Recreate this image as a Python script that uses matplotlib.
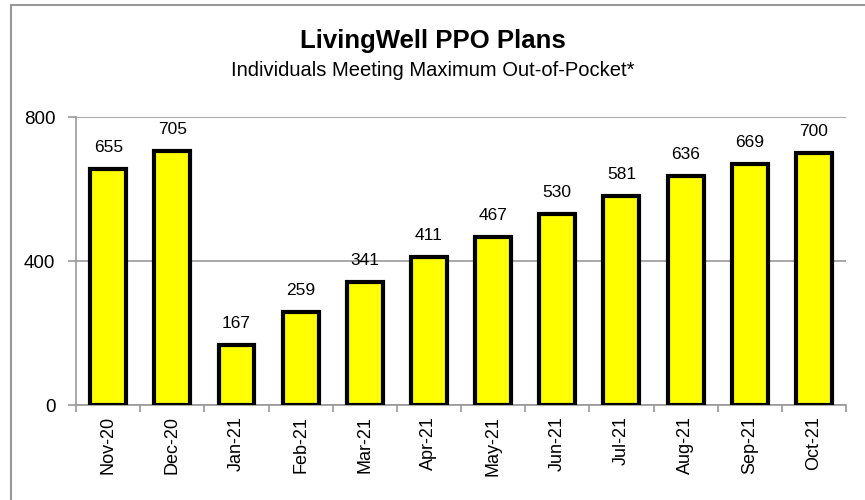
import matplotlib.pyplot as plt
from matplotlib.lines import Line2D

months = ["Nov-20", "Dec-20", "Jan-21", "Feb-21", "Mar-21", "Apr-21",
          "May-21", "Jun-21", "Jul-21", "Aug-21", "Sep-21", "Oct-21"]
values = [655, 705, 167, 259, 341, 411, 467, 530, 581, 636, 669, 700]
yticks = [0, 400, 800]

plt.rcParams["font.family"] = ["Liberation Sans", "DejaVu Sans"]
GREY = "#999999"

fig = plt.figure(figsize=(8.65, 5.0), dpi=100)
ax = fig.add_axes([0.088, 0.19, 0.890, 0.576])

x = list(range(len(months)))
ax.bar(x, values, width=0.56, color="#FFFF00", edgecolor="black", linewidth=3, zorder=3)
for xi, v in zip(x, values):
    ax.annotate(str(v), (xi, v), xytext=(0, 10), textcoords="offset points",
                ha="center", va="bottom", fontsize=12.5)

ax.set_xlim(-0.5, len(months) - 0.5)
ax.set_ylim(0, 800)
ax.set_yticks(yticks)
ax.set_yticklabels([str(t) for t in yticks], fontsize=13.5)
ax.yaxis.grid(True, color=GREY, lw=1.2, zorder=0)
ax.set_xticks(x)
ax.set_xticklabels(months, rotation=90, fontsize=13)
ax.set_xticks([i - 0.5 for i in range(len(months) + 1)], minor=True)
ax.tick_params(axis="x", which="major", length=0, pad=8)
ax.tick_params(axis="x", which="minor", length=5, color=GREY, width=1.2)
ax.tick_params(axis="y", length=6, color=GREY, width=1.2, pad=9)
for s in ["top", "right"]:
    ax.spines[s].set_visible(False)
for s in ["left", "bottom"]:
    ax.spines[s].set_color(GREY)
    ax.spines[s].set_linewidth(1.2)

fig.text(0.5, 0.918, "LivingWell PPO Plans", ha="center", va="center",
         fontsize=18.5, fontweight="bold")
fig.text(0.5, 0.858, "Individuals Meeting Maximum Out-of-Pocket*", ha="center",
         va="center", fontsize=14.5)

# chart frame (only left and top edges fall inside the image)
fig.add_artist(Line2D([10.5 / 865, 10.5 / 865], [0, 1 - 4.5 / 500], color=GREY, lw=1.5))
fig.add_artist(Line2D([10.5 / 865, 1], [1 - 4.5 / 500, 1 - 4.5 / 500], color=GREY, lw=1.5))

fig.savefig("out.png", dpi=100)
